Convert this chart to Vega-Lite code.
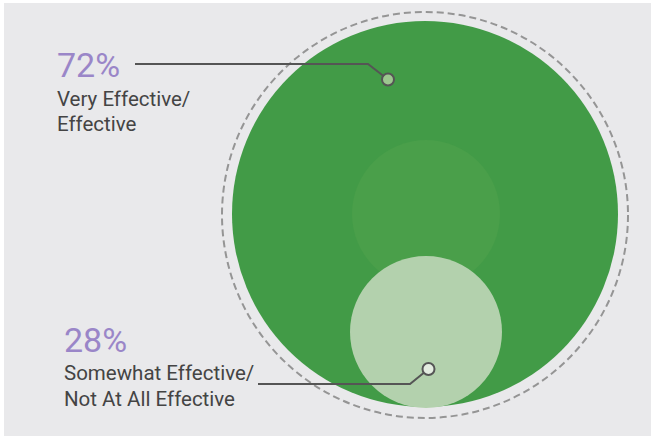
{
  "$schema": "https://vega.github.io/schema/vega-lite/v6.json",
  "width": 651,
  "height": 436,
  "autosize": {"type": "fit", "contains": "padding"},
  "padding": {"left": 4, "top": 3, "right": 0, "bottom": 0},
  "background": "#ffffff",
  "config": {"view": {"fill": "#e9e9eb", "stroke": null}},
  "datasets": {
    "circles": [
      {"id": "outline", "x": 0, "y": -1},
      {"id": "all", "x": 0, "y": 0},
      {"id": "core", "x": 1, "y": 0},
      {"id": "part", "x": 1, "y": -118}
    ],
    "leaders": [
      {"group": "72%", "seq": 1, "x": -290, "y": 150},
      {"group": "72%", "seq": 2, "x": -57, "y": 150},
      {"group": "72%", "seq": 3, "x": -37, "y": 134.5},
      {"group": "28%", "seq": 1, "x": -167, "y": -170},
      {"group": "28%", "seq": 2, "x": -15, "y": -170},
      {"group": "28%", "seq": 3, "x": 3.5, "y": -155}
    ],
    "labels": [
      {"group": "72%", "value": 72, "pct": "72%", "label": "Very Effective/\nEffective", "x": -368, "py": 136.7, "ly": 108.3, "dx": -37, "dy": 134.5},
      {"group": "28%", "value": 28, "pct": "28%", "label": "Somewhat Effective/\nNot At All Effective", "x": -361, "py": -137.7, "ly": -166, "dx": 3.5, "dy": -155}
    ]
  },
  "layer": [
    {
      "data": {"name": "circles"},
      "transform": [{"filter": "datum.id === 'outline'"}],
      "mark": {"type": "point", "shape": "circle", "filled": false, "size": 164836, "stroke": "#959595", "strokeWidth": 2, "strokeDash": [7, 4], "opacity": 1},
      "encoding": {
        "x": {"field": "x", "type": "quantitative", "scale": {"domain": [-421, 226], "nice": false, "zero": false}, "axis": null},
        "y": {"field": "y", "type": "quantitative", "scale": {"domain": [-222, 211], "nice": false, "zero": false}, "axis": null}
      }
    },
    {
      "data": {"name": "circles"},
      "transform": [{"filter": "datum.id === 'all'"}],
      "mark": {"type": "point", "shape": "circle", "filled": true, "size": 148996, "fill": "#429b47", "strokeWidth": 0, "opacity": 1},
      "encoding": {
        "x": {"field": "x", "type": "quantitative"},
        "y": {"field": "y", "type": "quantitative"}
      }
    },
    {
      "data": {"name": "circles"},
      "transform": [{"filter": "datum.id === 'core'"}],
      "mark": {"type": "point", "shape": "circle", "filled": true, "size": 21904, "fill": "#4a9f4a", "strokeWidth": 0, "opacity": 1},
      "encoding": {
        "x": {"field": "x", "type": "quantitative"},
        "y": {"field": "y", "type": "quantitative"}
      }
    },
    {
      "data": {"name": "circles"},
      "transform": [{"filter": "datum.id === 'part'"}],
      "mark": {"type": "point", "shape": "circle", "filled": true, "size": 23104, "fill": "#b3d1ad", "strokeWidth": 0, "opacity": 1},
      "encoding": {
        "x": {"field": "x", "type": "quantitative"},
        "y": {"field": "y", "type": "quantitative"}
      }
    },
    {
      "data": {"name": "leaders"},
      "mark": {"type": "line", "color": "#555555", "strokeWidth": 2},
      "encoding": {
        "x": {"field": "x", "type": "quantitative"},
        "y": {"field": "y", "type": "quantitative"},
        "detail": {"field": "group"},
        "order": {"field": "seq", "type": "quantitative"}
      }
    },
    {
      "data": {"name": "labels"},
      "mark": {"type": "point", "shape": "circle", "filled": true, "size": 144, "stroke": "#555555", "strokeWidth": 2, "opacity": 1},
      "encoding": {
        "x": {"field": "dx", "type": "quantitative"},
        "y": {"field": "dy", "type": "quantitative"},
        "fill": {"field": "group", "type": "nominal", "scale": {"domain": ["72%", "28%"], "range": ["#9cc78f", "#e3ece0"]}, "legend": null}
      }
    },
    {
      "data": {"name": "labels"},
      "mark": {"type": "text", "align": "left", "baseline": "alphabetic", "font": "Roboto", "fontSize": 34, "fontWeight": 400, "color": "#9a86c8"},
      "encoding": {
        "x": {"field": "x", "type": "quantitative"},
        "y": {"field": "py", "type": "quantitative"},
        "text": {"field": "pct"}
      }
    },
    {
      "data": {"name": "labels"},
      "mark": {"type": "text", "align": "left", "baseline": "alphabetic", "font": "Roboto", "fontSize": 20.5, "lineBreak": "\n", "lineHeight": 25.5, "color": "#444444"},
      "encoding": {
        "x": {"field": "x", "type": "quantitative"},
        "y": {"field": "ly", "type": "quantitative"},
        "text": {"field": "label"}
      }
    }
  ]
}
